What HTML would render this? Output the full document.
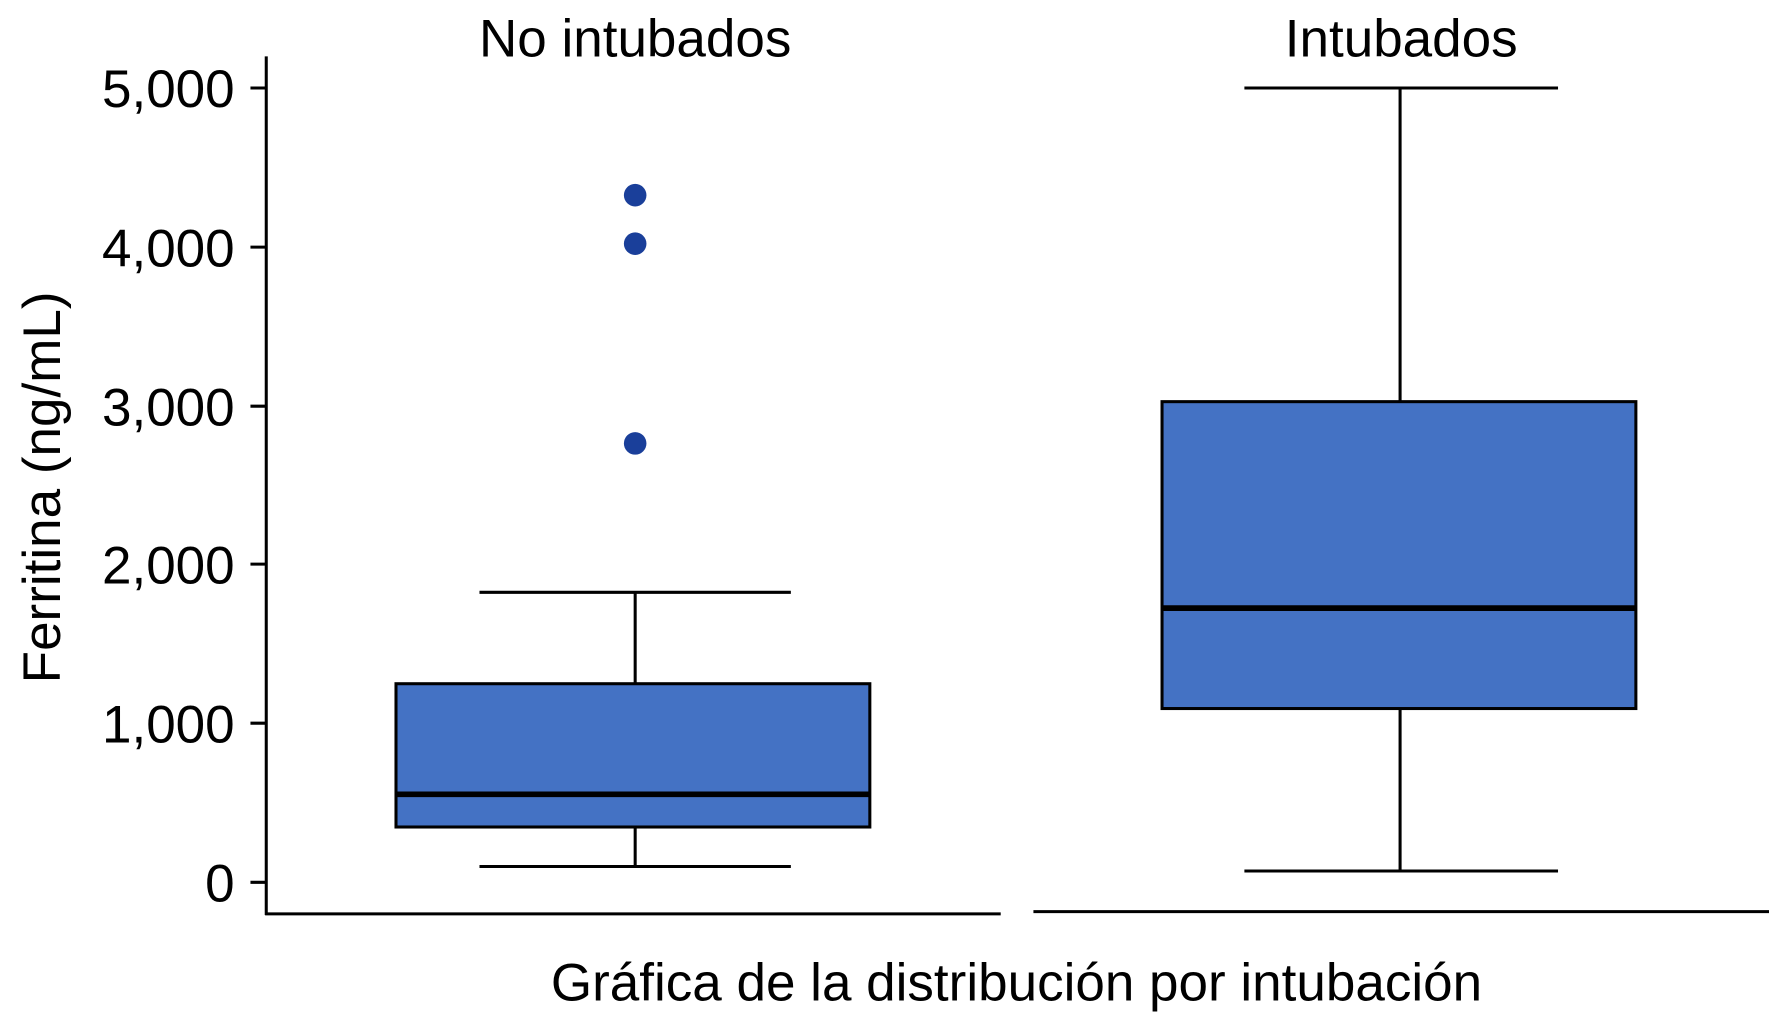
<!DOCTYPE html>
<html><head><meta charset="utf-8"><style>
html,body{margin:0;padding:0;background:#fff;}
svg{display:block;}
text{font-family:"Liberation Sans",Arial,sans-serif;fill:#000;}
</style></head><body>
<svg width="1769" height="1024" viewBox="0 0 1568 907.6" preserveAspectRatio="none" xmlns="http://www.w3.org/2000/svg">
<g stroke="#000" stroke-width="2.7" fill="none">
<line x1="236" y1="50" x2="236" y2="811"/>
<line x1="235" y1="810" x2="887" y2="810"/>
<line x1="916" y1="808" x2="1568" y2="808"/>
<line x1="222" y1="78" x2="236" y2="78"/>
<line x1="222" y1="219" x2="236" y2="219"/>
<line x1="222" y1="360" x2="236" y2="360"/>
<line x1="222" y1="500" x2="236" y2="500"/>
<line x1="222" y1="641" x2="236" y2="641"/>
<line x1="222" y1="782" x2="236" y2="782"/>
</g>
<g font-size="47" text-anchor="end">
<text x="208" y="95">5,000</text>
<text x="208" y="236">4,000</text>
<text x="208" y="377">3,000</text>
<text x="208" y="517">2,000</text>
<text x="208" y="658">1,000</text>
<text x="208" y="799">0</text>
</g>
<text font-size="47" transform="translate(53,432) rotate(-90)" text-anchor="middle">Ferritina (ng/mL)</text>
<text font-size="47" x="563" y="50" text-anchor="middle">No intubados</text>
<text font-size="47" x="1242" y="50" text-anchor="middle">Intubados</text>
<text font-size="47" x="901" y="887" text-anchor="middle">Gráfica de la distribución por intubación</text>
<g stroke="#000" stroke-width="2.7">
<line x1="563" y1="525" x2="563" y2="606"/>
<line x1="563" y1="733" x2="563" y2="768"/>
<line x1="425" y1="525" x2="701" y2="525"/>
<line x1="425" y1="768" x2="701" y2="768"/>
<rect x="351" y="606" width="420" height="127" fill="#4472c4"/>
<line x1="351" y1="704" x2="771" y2="704" stroke-width="5"/>
<line x1="1241" y1="78" x2="1241" y2="356"/>
<line x1="1241" y1="628" x2="1241" y2="772"/>
<line x1="1103" y1="78" x2="1381" y2="78"/>
<line x1="1103" y1="772" x2="1381" y2="772"/>
<rect x="1030" y="356" width="420" height="272" fill="#4472c4"/>
<line x1="1030" y1="539" x2="1450" y2="539" stroke-width="5"/>
</g>
<g fill="#1a3f9a">
<circle cx="563" cy="173" r="10"/>
<circle cx="563" cy="216" r="10"/>
<circle cx="563" cy="393" r="10"/>
</g>
</svg>
</body></html>
